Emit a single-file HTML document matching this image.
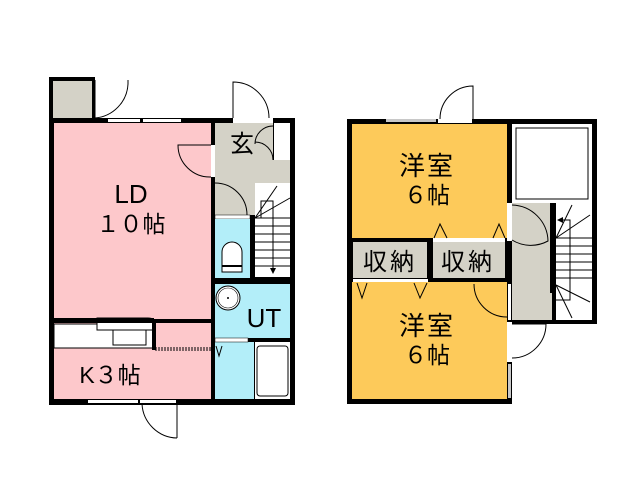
<!DOCTYPE html>
<html><head><meta charset="utf-8"><style>
html,body{margin:0;padding:0;background:#fff;width:640px;height:480px;overflow:hidden}
svg{display:block}
text{font-family:"Liberation Sans","Noto Sans CJK JP",sans-serif;fill:#000;text-anchor:middle}
</style></head><body>
<svg width="640" height="480" viewBox="0 0 640 480" xmlns="http://www.w3.org/2000/svg">
<!-- LEFT BUILDING -->
<rect x="49" y="77" width="46" height="46" fill="#000"/>
<rect x="53" y="81" width="39" height="38" fill="#d4d2c7"/>
<path d="M95 80 L95 118 M95 118 A36 36 0 0 0 128 84 L128 80" fill="none" stroke="#000" stroke-width="1"/>
<rect x="49" y="118" width="246" height="287" fill="#000"/>
<rect x="54" y="123" width="157" height="196" fill="#fdc8cb"/>
<rect x="54" y="323" width="157" height="76" fill="#fdc8cb"/>
<rect x="54" y="324" width="100" height="24" fill="#fff" stroke="#000" stroke-width="1"/>
<rect x="113" y="326" width="33" height="19" fill="#fff" stroke="#000" stroke-width="1"/>
<path d="M97 318 L148 318 Q155 318 155 324 L155 330 L97 330 Z" fill="#fff" stroke="#000" stroke-width="1"/>
<rect x="54" y="318" width="100" height="5" fill="#000"/>
<rect x="152" y="320" width="4" height="30" fill="#000"/>
<line x1="155" y1="348" x2="211" y2="348" stroke="#000" stroke-width="1" stroke-dasharray="2,1"/>
<line x1="155" y1="350" x2="211" y2="350" stroke="#000" stroke-width="1" stroke-dasharray="2,1"/>
<rect x="108" y="119" width="32" height="3" fill="#fff"/><rect x="143" y="119" width="38" height="3" fill="#fff"/>
<rect x="88" y="400" width="50" height="3" fill="#fff"/>
<rect x="140" y="400" width="36" height="3" fill="#fff"/>
<path d="M177 403 L177 438 M177 438 A36 36 0 0 1 142 404" fill="none" stroke="#000" stroke-width="1"/>
<rect x="211" y="145" width="4" height="32" fill="#fff"/>
<path d="M211 177 A32 32 0 0 1 178 145 L211 145" fill="none" stroke="#000" stroke-width="1"/>
<rect x="215" y="123" width="58" height="37" fill="#d4d2c7"/>
<rect x="274" y="123" width="16" height="37" fill="#fff"/>
<rect x="215" y="160" width="75" height="23" fill="#d4d2c7"/>
<rect x="215" y="183" width="40" height="32" fill="#d4d2c7"/>
<rect x="215" y="215" width="35" height="4" fill="#fff" stroke="#000" stroke-width="0.5"/>
<path d="M215 183 A32 32 0 0 1 247 215" fill="none" stroke="#000" stroke-width="1"/>
<path d="M273 126 A18 18 0 0 0 255 144 M255 142 A18 18 0 0 1 273 160" fill="none" stroke="#000" stroke-width="1"/>
<rect x="233" y="118" width="40" height="5" fill="#fff"/>
<path d="M233 118 L233 82 A36 36 0 0 1 269 118" fill="none" stroke="#000" stroke-width="1"/>
<rect x="255" y="183" width="35" height="94" fill="#fff"/>
<g stroke="#000" stroke-width="1" fill="none">
<line x1="255" y1="218" x2="290" y2="218"/><line x1="255" y1="226" x2="290" y2="226"/>
<line x1="255" y1="234" x2="290" y2="234"/><line x1="255" y1="242" x2="290" y2="242"/>
<line x1="255" y1="250" x2="290" y2="250"/><line x1="255" y1="258" x2="290" y2="258"/>
<line x1="255" y1="266" x2="290" y2="266"/>
<line x1="255" y1="218" x2="277" y2="186"/><line x1="255" y1="218" x2="290" y2="198"/>
<polyline points="261,218 261,201 273,201 273,270"/>
</g>
<path d="M270 268 L276 268 L273 274 Z" fill="#000"/>
<rect x="250" y="215" width="5" height="65" fill="#000"/>
<rect x="215" y="219" width="35" height="59" fill="#b3eef9"/>
<path d="M222 272 L222 252 A10 10 0 0 1 242 252 L242 272 Z" fill="#fff" stroke="#000" stroke-width="1"/>
<line x1="222" y1="266" x2="242" y2="266" stroke="#000" stroke-width="2"/>
<rect x="215" y="284" width="75" height="54" fill="#b3eef9"/>
<circle cx="228" cy="298" r="12" fill="#fff" stroke="#000" stroke-width="1"/>
<circle cx="228" cy="298" r="10" fill="none" stroke="#000" stroke-width="0.6"/>
<circle cx="228" cy="298" r="1" fill="#000"/>
<rect x="215" y="342" width="39" height="57" fill="#b3eef9"/>
<rect x="215" y="338" width="33" height="4" fill="#fff" stroke="#000" stroke-width="0.5"/>
<polyline points="216,346 219,356 222,346" fill="none" stroke="#000" stroke-width="1"/>
<rect x="255" y="342" width="35" height="57" fill="#fff"/>
<rect x="257" y="346" width="31" height="50" rx="3" fill="#fff" stroke="#000" stroke-width="1"/>
<text x="131" y="203" font-size="26">LD</text>
<text x="131" y="232" font-size="23">１０帖</text>
<text x="242" y="152" font-size="24">玄</text>
<text x="264" y="327" font-size="26">UT</text>
<text x="110" y="383" font-size="23">K３帖</text>

<!-- RIGHT BUILDING -->
<rect x="347" y="119" width="165" height="285" fill="#000"/>
<rect x="352" y="124" width="155" height="114" fill="#fdca5a"/>
<rect x="352" y="282" width="155" height="117" fill="#fdca5a"/>
<rect x="353" y="242" width="74" height="36" fill="#d4d2c7"/>
<rect x="433" y="242" width="72" height="36" fill="#d4d2c7"/>
<rect x="433" y="238" width="72" height="4" fill="#fff"/>
<rect x="353" y="279" width="75" height="3" fill="#fff"/>
<g fill="none" stroke="#000" stroke-width="1">
<polyline points="434,238 440,224 447,238"/><polyline points="493,238 499,224 505,238"/>
<polyline points="357,283 362,298 367,283"/><polyline points="414,283 420,298 427,283"/>
</g>
<rect x="386" y="119" width="50" height="3" fill="#c8c8c8"/>
<rect x="438" y="119" width="34" height="4" fill="#fff"/>
<path d="M440 119 A33 33 0 0 1 473 86 L473 119" fill="none" stroke="#000" stroke-width="1"/>
<rect x="507" y="119" width="90" height="205" fill="#000"/>
<rect x="512" y="124" width="80" height="79" fill="#fff"/>
<rect x="516" y="128" width="72" height="71" fill="#fff" stroke="#000" stroke-width="1"/>
<rect x="512" y="203" width="40" height="117" fill="#d4d2c7"/>
<rect x="507" y="203" width="5" height="38" fill="#fff"/>
<rect x="508" y="284" width="3" height="36" fill="#fff"/>
<path d="M512 205 A37 37 0 0 1 548 241 A36 36 0 0 1 512 240" fill="none" stroke="#000" stroke-width="1"/>
<path d="M474 284 A33 33 0 0 0 507 317" fill="none" stroke="#000" stroke-width="1"/>
<rect x="556" y="203" width="36" height="117" fill="#fff"/>
<rect x="550" y="203" width="5" height="90" fill="#000"/>
<g stroke="#000" stroke-width="1" fill="none">
<line x1="556" y1="238" x2="592" y2="238"/><line x1="556" y1="246" x2="592" y2="246"/>
<line x1="556" y1="254" x2="592" y2="254"/><line x1="556" y1="262" x2="592" y2="262"/>
<line x1="556" y1="270" x2="592" y2="270"/><line x1="556" y1="278" x2="592" y2="278"/>
<line x1="556" y1="238" x2="572" y2="205"/><line x1="556" y1="238" x2="590" y2="215"/>
<line x1="556" y1="285" x2="590" y2="302"/><line x1="556" y1="285" x2="572" y2="318"/>
<polyline points="560,220 570,220 570,300 556,300"/>
</g>
<path d="M557 220 L563 217 L563 223 Z" fill="#000"/>
<rect x="507" y="322" width="5" height="40" fill="#fff"/>
<path d="M512 324 L546 324 A34 34 0 0 1 512 358" fill="none" stroke="#000" stroke-width="1"/>
<rect x="508" y="364" width="3" height="34" fill="#c8c8c8"/>
<text x="427" y="175" font-size="26" letter-spacing="2">洋室</text>
<text x="427" y="203" font-size="23">６帖</text>
<text x="390" y="270" font-size="24" letter-spacing="3">収納</text>
<text x="468" y="270" font-size="24" letter-spacing="3">収納</text>
<text x="427" y="335" font-size="26" letter-spacing="2">洋室</text>
<text x="427" y="363" font-size="23">６帖</text>
</svg>
</body></html>
